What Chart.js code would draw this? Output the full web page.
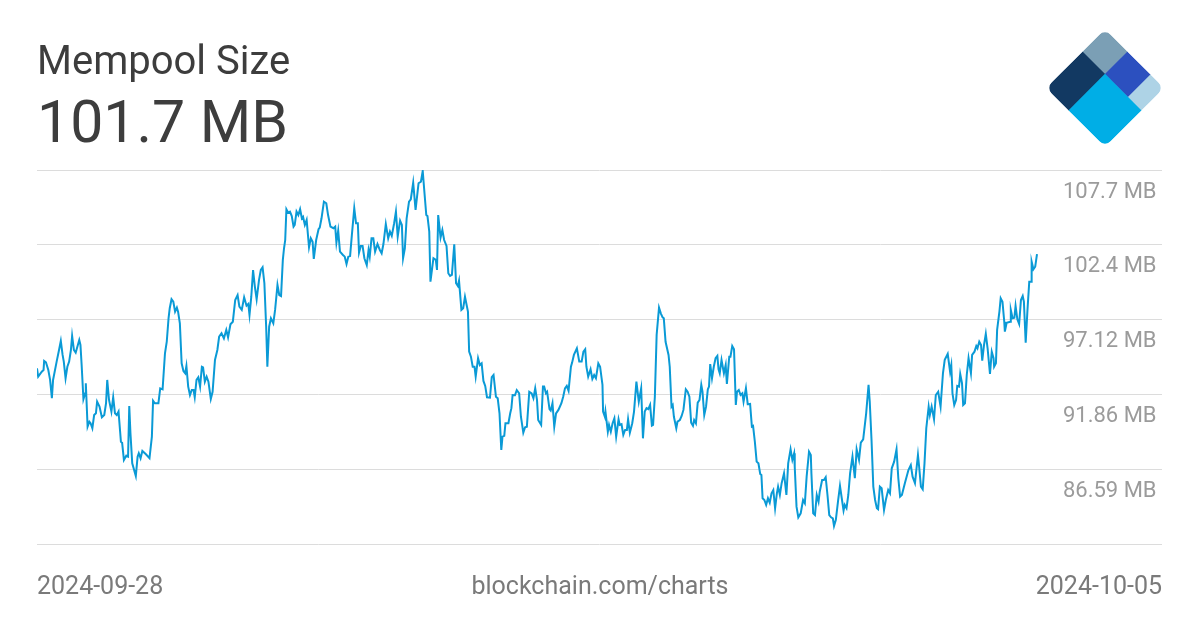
<!DOCTYPE html>
<html>
<head>
<meta charset="utf-8">
<title>Mempool Size</title>
<script src="https://cdn.jsdelivr.net/npm/chart.js@4.4.1/dist/chart.umd.min.js"></script>
<style>
  html, body { margin: 0; padding: 0; background: #fff; }
  #wrap { position: relative; width: 1200px; height: 630px; overflow: hidden; font-family: Roboto, sans-serif; }
  #chart { position: absolute; left: 0; top: 0; }
  #logo { position: absolute; left: 1040px; top: 24px; }
  .txt { position: absolute; white-space: nowrap; line-height: 1; }
  #title { left: 37px; top: 41px; font-size: 40px; color: #3d3d3d; }
  #value { left: 37px; top: 92px; font-size: 59px; color: #3d3d3d; }
  .foot { top: 573px; font-size: 25px; color: #7a7a7a; }
  #start { left: 37px; }
  #source { left: 600px; transform: translateX(-50%); }
  #end { right: 38px; }
</style>
</head>
<body>
<div id="wrap">
  <canvas id="chart" width="1200" height="630"></canvas>
  <canvas id="logo" width="130" height="130"></canvas>
  <div class="txt" id="title">Mempool Size</div>
  <div class="txt" id="value">101.7 MB</div>
  <div class="txt foot" id="start">2024-09-28</div>
  <div class="txt foot" id="source">blockchain.com/charts</div>
  <div class="txt foot" id="end">2024-10-05</div>
</div>
<script>
// hours since 2024-09-28 00:00
const hours = [
  0.0, 0.2, 0.8, 1.1, 1.2, 1.5, 1.9, 2.2, 2.5, 2.7,
  3.3, 3.7, 4.0, 4.3, 4.5, 4.8, 5.1, 5.4, 5.7, 5.9,
  6.2, 6.5, 7.1, 7.3, 7.5, 7.8, 8.1, 8.2, 8.5, 8.8,
  9.0, 9.3, 9.6, 9.9, 10.1, 10.5, 10.9, 11.3, 11.6, 11.8,
  12.1, 12.5, 12.8, 13.1, 13.4, 13.7, 14.1, 14.3, 14.6, 15.0,
  15.3, 15.5, 15.7, 16.0, 16.6, 16.9, 17.1, 17.4, 17.7, 18.3,
  18.9, 19.3, 19.5, 19.8, 20.4, 20.7, 21.1, 21.5, 21.8, 22.1,
  22.3, 22.6, 22.9, 23.2, 23.5, 23.7, 24.0, 24.3, 24.6, 24.9,
  25.1, 25.4, 25.7, 26.0, 26.3, 26.5, 26.8, 27.1, 27.4, 27.7,
  27.9, 28.2, 28.5, 28.8, 29.2,
  29.5, 29.9, 30.3, 30.6, 31.0, 31.4, 31.8, 32.1, 32.5, 32.9,
  33.3, 33.7, 34.0, 34.4, 34.8, 35.2, 35.5, 35.7, 36.0, 36.3,
  36.6, 36.9, 37.3, 37.6, 37.9, 38.2, 38.5, 38.7, 39.0, 39.3,
  39.7, 40.0, 40.4, 40.7, 41.0, 41.3, 41.5, 41.7, 41.9, 42.2,
  42.5, 42.8, 43.1, 43.3, 43.6, 43.9, 44.2, 44.5, 44.7, 45.0,
  45.3, 45.7, 46.0, 46.3, 46.5, 46.9, 47.3, 47.5, 47.8, 48.2,
  48.6, 48.9, 49.3, 49.8, 50.1, 50.3, 50.6, 50.9, 51.4, 51.7,
  52.0, 52.3, 52.6, 52.9, 53.3, 53.6, 53.9, 54.1, 54.4, 54.7,
  55.0, 55.4, 55.7, 55.9, 56.2, 56.5, 56.8, 57.2, 57.6,
  57.9, 58.2, 58.6, 59.0, 59.3, 59.6, 60.0, 60.3, 60.6, 61.0,
  61.3, 61.5, 61.8, 62.1, 62.5, 62.8, 63.2, 63.6, 64.1, 64.5,
  64.8, 65.1, 65.4, 65.6, 65.9, 66.1, 66.6, 67.0, 67.2, 67.4,
  67.8, 68.1, 68.4, 68.8, 69.1, 69.4, 69.7, 70.1, 70.4, 70.7,
  70.9, 71.3, 71.6, 71.9, 72.4, 72.6, 72.9, 73.2, 73.5, 73.7,
  74.1, 74.4, 74.7, 75.0, 75.3, 75.6, 76.1, 76.4, 76.7, 77.1,
  77.4, 77.7, 78.0, 78.2, 78.5, 78.7, 79.2, 79.5, 79.7, 79.9,
  80.3, 80.6, 81.0, 81.3, 81.7, 82.0, 82.3, 82.7, 83.1, 83.4,
  83.7, 84.0, 84.2, 84.7, 85.0, 85.2, 85.5, 85.7, 86.1,
  86.3, 86.6, 86.9, 87.2, 87.6, 88.1, 88.4, 88.7, 89.0, 89.3,
  89.7, 89.9, 90.2, 90.7, 91.1, 91.5, 91.8, 92.1, 92.3, 92.6,
  93.0, 93.3, 93.6, 93.9, 94.3, 94.6, 95.0, 95.1, 95.4, 95.5,
  95.9, 96.1, 96.4, 96.7, 97.0, 97.3, 97.7, 97.9, 98.2, 98.5,
  98.8, 99.1, 99.3, 99.6, 100.0, 100.3, 100.7, 101.1, 101.5, 101.8,
  102.1, 102.4, 102.7, 103.0, 103.3, 103.5, 103.8, 104.1, 104.5, 104.8,
  105.1, 105.3, 105.6, 106.1, 106.3, 106.6, 106.8, 107.0, 107.4, 107.6,
  108.0, 108.3, 108.6, 109.0, 109.3, 109.6, 109.9, 110.2, 110.4, 110.7,
  111.0, 111.3, 111.6, 111.8, 112.1, 112.4, 112.7, 112.9, 113.1, 113.4,
  113.7, 114.0, 114.3, 114.5, 114.7,
  115.0, 115.4, 115.7, 115.9, 116.3, 116.5, 116.8, 117.1, 117.4, 117.6,
  117.9, 118.2, 118.5, 118.7, 119.1, 119.4, 119.8, 120.1, 120.3, 120.6,
  120.9, 121.2, 121.5, 121.7, 121.9, 122.2, 122.5, 122.8, 123.1, 123.4,
  123.7, 124.0, 124.3, 124.5, 124.8, 125.1, 125.5, 125.9, 126.2, 126.6,
  126.9, 127.2, 127.3, 127.6, 127.9, 128.3, 128.7, 129.0, 129.3, 129.7,
  130.0, 130.1, 130.4, 130.7, 131.0, 131.3, 131.5, 131.9, 132.2, 132.5,
  132.8, 133.1, 133.4, 133.7, 133.9, 134.2, 134.6, 134.9, 135.2, 135.5,
  135.7, 136.0, 136.3, 136.6, 137.0, 137.4, 137.7, 138.1, 138.4, 138.8,
  139.3, 139.7, 139.9, 140.2, 140.5, 140.8, 141.1, 141.3, 141.6,
  141.9, 142.3, 142.6, 143.0, 143.3, 143.6, 144.0, 144.4, 144.7, 145.0,
  145.3, 145.8, 146.4, 146.8, 147.1, 147.5, 148.0, 148.2, 148.5, 148.8,
  149.1, 149.4, 149.8, 150.0, 150.3, 150.7, 151.0, 151.4, 151.8, 152.2,
  152.5, 153.0, 153.4, 153.6, 153.8, 154.1, 154.4, 154.6, 154.9, 155.1,
  155.4, 155.6, 155.9, 156.2, 156.5, 156.9, 157.1, 157.5, 157.8, 158.0,
  158.3, 158.6, 158.8, 159.1, 159.4, 159.7, 160.1, 160.4, 160.7, 160.8,
  161.1, 161.3, 161.7, 161.9, 162.2, 162.5, 162.6, 162.9, 163.5, 163.6,
  163.9, 164.2, 164.4, 164.7, 165.0, 165.3, 165.6, 165.8, 166.1, 166.4,
  166.7, 167.0, 167.1, 167.4, 167.7, 168.0
];

// mempool size, MB
const sizes = [
  93.70, 93.11, 93.46, 93.58, 94.22, 94.12, 93.58, 92.88, 91.59, 92.88,
  94.17, 94.99, 95.62, 94.64, 94.17, 93.00, 93.81, 94.17, 94.99, 95.98,
  94.99, 94.80, 95.69, 95.34, 93.93, 91.52, 91.94, 92.65, 89.59, 89.94,
  89.83, 89.48, 90.41, 90.53, 91.35, 91.00, 90.25, 90.41, 91.24, 92.88,
  91.47, 90.65, 91.66, 90.53, 90.41, 90.65, 88.53, 88.46, 87.25, 87.55,
  87.48, 91.05, 89.13, 87.01, 86.12, 87.48, 87.72, 87.37, 87.88, 87.65,
  87.37, 88.89, 91.42, 91.24, 91.24, 92.29, 92.22, 94.76, 95.57, 97.22,
  97.93, 98.56, 98.39, 97.69, 97.97, 97.69, 96.87, 94.05, 93.51, 93.35,
  93.86, 92.41, 91.82, 92.17, 92.17, 91.66, 92.88, 93.07, 92.41, 93.81,
  93.77, 92.76, 93.11, 92.76, 91.54,
  92.05, 94.29, 94.99, 95.93, 96.17, 95.81, 96.40, 95.88, 96.80, 96.98,
  98.51, 98.86, 98.04, 97.81, 98.70, 98.11, 98.23, 97.45, 98.74, 100.62,
  99.45, 98.56, 99.92, 100.62, 100.81, 99.69, 96.63, 93.81, 96.63, 97.22,
  96.87, 97.81, 99.57, 98.86, 98.79, 101.33, 102.15, 102.73, 104.90, 104.66,
  104.73, 104.42, 103.67, 103.79, 104.73, 104.49, 104.90, 104.26, 104.37, 103.79,
  104.14, 102.22, 102.85, 102.61, 101.40, 102.73, 103.49, 103.60, 104.26, 105.43,
  105.32, 104.49, 103.67, 103.56, 103.67, 102.54, 103.39, 101.91, 101.68, 101.56,
  101.04, 101.56, 101.61, 103.09, 104.97, 103.91, 103.91, 101.84, 102.31, 102.31,
  101.45, 100.97, 102.03, 101.56, 102.85, 102.85, 101.91, 102.45, 102.03,
  101.80, 102.45, 103.86, 102.85, 103.32, 103.02, 103.91, 104.73, 102.97, 104.09,
  103.79, 101.45, 102.15, 104.26, 105.43, 105.60, 106.77, 104.85, 106.73, 106.84,
  107.59, 106.02, 104.49, 104.42, 103.32, 99.80, 101.45, 101.33, 100.62, 104.49,
  102.90, 103.44, 102.73, 102.31, 100.39, 100.20, 100.27, 102.43, 99.69, 99.50,
  99.87, 97.81, 97.93, 98.74, 97.69, 94.87, 94.52, 93.81, 93.81, 93.11,
  94.41, 93.93, 94.05, 92.81, 92.46, 91.66, 91.63, 93.07, 93.23, 91.70,
  91.59, 90.53, 87.95, 88.89, 88.94, 89.83, 89.83, 90.53, 90.89, 91.82,
  91.80, 92.17, 91.94, 90.29, 89.17, 89.55, 89.59, 92.05, 91.94, 91.59,
  92.29, 91.47, 90.06, 89.71, 92.41, 92.41, 91.94, 92.05, 90.82,
  90.72, 91.24, 89.59, 90.53, 90.77, 91.24, 91.70, 92.29, 92.46, 92.12,
  93.81, 94.10, 94.64, 95.11, 94.17, 94.17, 94.87, 95.04, 93.81, 93.11,
  93.63, 92.95, 93.23, 93.00, 94.05, 93.81, 92.53, 90.65, 90.29, 90.65,
  89.24, 89.71, 89.24, 89.83, 90.18, 88.89, 90.11, 89.71, 89.76, 89.01,
  89.36, 89.36, 90.11, 89.17, 89.83, 90.65, 92.76, 91.35, 92.29, 88.77,
  90.65, 90.89, 90.82, 91.12, 89.66, 89.71, 91.70, 96.05, 97.97, 97.57,
  97.29, 97.22, 95.57, 94.64, 93.81, 91.00, 91.12, 90.29, 89.48, 89.94,
  90.06, 90.34, 90.77, 92.22, 92.05, 91.70, 89.87, 89.66, 90.06, 89.83,
  91.28, 91.47, 92.53, 92.05, 90.41, 91.00, 92.22, 92.41, 94.00, 93.00,
  93.81, 94.41, 94.57, 93.63, 93.35,
  94.29, 93.35, 93.93, 92.60, 94.52, 94.52, 95.27, 95.04, 91.12, 92.05,
  92.17, 91.82, 91.94, 91.35, 92.29, 91.17, 91.19, 89.59, 89.64, 88.53,
  87.13, 87.01, 86.26, 86.19, 84.55, 84.43, 84.08, 84.55, 84.24, 84.90,
  85.13, 83.85, 84.90, 85.37, 84.78, 85.61, 86.31, 84.78, 87.01, 88.00,
  87.25, 87.72, 86.77, 83.96, 83.21, 83.49, 84.43, 84.20, 86.07, 87.83,
  87.60, 86.31, 83.49, 83.37, 84.78, 84.31, 85.01, 85.84, 85.84, 86.03,
  84.78, 83.37, 83.21, 83.14, 82.60, 83.02, 84.43, 85.42, 84.55, 83.68,
  84.08, 83.85, 84.78, 86.31, 87.48, 85.96, 88.00, 87.25, 88.46, 88.70,
  90.53, 92.53, 91.35, 88.65, 85.37, 84.43, 83.85, 83.78, 85.37,
  85.25, 83.73, 84.43, 85.13, 84.90, 86.66, 87.13, 88.00, 85.96, 84.66,
  84.78, 85.61, 86.54, 86.89, 86.07, 85.61, 87.60, 86.77, 85.37, 85.18,
  87.01, 89.48, 91.00, 90.41, 91.00, 90.11, 91.82, 92.05, 91.00, 93.35,
  94.29, 94.71, 93.46, 93.93, 91.94, 91.12, 91.47, 92.46, 92.41, 93.30,
  92.65, 91.12, 91.24, 93.23, 94.41, 93.35, 94.64, 94.87, 95.27, 95.11,
  95.57, 95.34, 94.24, 95.34, 96.12, 95.11, 93.30, 94.87, 94.41, 93.81,
  94.05, 96.40, 97.74, 98.63, 98.39, 96.98, 96.28, 96.91, 96.98, 97.81,
  97.22, 97.26, 98.09, 97.15, 96.82, 98.51, 98.79, 98.39, 95.50, 97.81,
  99.80, 99.80, 101.21, 100.67, 100.85, 101.73
];

// y axis gridlines and their labels (bottom one has no label)
const yTickValues = [81.33, 86.59, 91.86, 97.12, 102.39, 107.66];
const yTickLabels = ['', '86.59 MB', '91.86 MB', '97.12 MB', '102.4 MB', '107.7 MB'];

Chart.defaults.font.family = 'Roboto';

const points = hours.map((h, i) => ({ x: h, y: sizes[i] }));

new Chart(document.getElementById('chart'), {
  type: 'line',
  data: {
    datasets: [{
      data: points,
      borderColor: '#0a9ad6',
      borderWidth: 2,
      pointRadius: 0,
      tension: 0,
      fill: false
    }]
  },
  options: {
    responsive: false,
    animation: false,
    layout: { padding: { left: 37, right: 38, top: 170, bottom: 86 } },
    plugins: { legend: { display: false }, tooltip: { enabled: false } },
    scales: {
      x: {
        type: 'linear',
        min: 0,
        max: 189,   // line stops before the label column
        display: false
      },
      y: {
        position: 'right',
        min: 81.33,
        max: 107.66,
        afterBuildTicks: (scale) => {
          scale.ticks = yTickValues.map(v => ({ value: v }));
        },
        border: { display: false },
        grid: { color: '#dcdcdc', lineWidth: 1, drawTicks: false },
        ticks: {
          mirror: true,
          padding: 0,
          labelOffset: 22,
          color: '#9b9b9b',
          font: { size: 22 },
          callback: (value, index) => yTickLabels[index] ? yTickLabels[index] + ' ' : ''
        }
      }
    }
  }
});

// blockchain.com logo
function drawLogo() {
  const ctx = document.getElementById('logo').getContext('2d');
  const h = 41.7;
  const a = -10;
  const b = 22.6;
  ctx.translate(65, 64);
  ctx.rotate(Math.PI / 4);
  ctx.beginPath();
  ctx.roundRect(-h, -h, 2 * h, 2 * h, 8);
  ctx.clip();
  ctx.fillStyle = '#7b9fb5';
  ctx.fillRect(-h, -h, a + h + 0.5, a + h + 0.5);
  ctx.fillStyle = '#123962';
  ctx.fillRect(-h, a, a + h + 0.5, h - a);
  ctx.fillStyle = '#2c50bf';
  ctx.fillRect(a, -h, b - a + 0.5, a + h + 0.5);
  ctx.fillStyle = '#aed3e6';
  ctx.fillRect(b, -h, h - b, a + h + 0.5);
  ctx.fillStyle = '#00aee6';
  ctx.fillRect(a, a, h - a, h - a);
}
drawLogo();
</script>
</body>
</html>
